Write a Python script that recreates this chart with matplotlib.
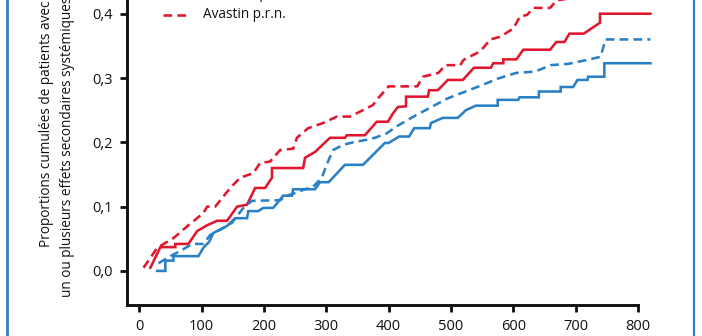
import matplotlib
matplotlib.use("Agg")
import matplotlib.pyplot as plt
from matplotlib.lines import Line2D

plt.rcParams['font.family'] = ['Open Sans', 'DejaVu Sans']

# ---- data ----
luc_men_x = [29, 42, 42, 55, 55, 95, 103, 112, 119, 141, 154, 173, 175, 191, 199, 215, 231, 245, 247, 282, 290, 304, 330, 359, 394, 400, 417, 433, 441, 466, 468, 487, 511, 524, 540, 575, 575, 608, 610, 641, 641, 676, 676, 696, 703, 719, 720, 746, 746, 820]
luc_men_y = [0.0, 0.0, 0.016, 0.016, 0.023, 0.023, 0.036, 0.045, 0.059, 0.07, 0.082, 0.082, 0.093, 0.093, 0.098, 0.098, 0.117, 0.117, 0.127, 0.127, 0.138, 0.138, 0.165, 0.165, 0.199, 0.199, 0.209, 0.209, 0.222, 0.222, 0.23, 0.238, 0.238, 0.25, 0.257, 0.257, 0.266, 0.266, 0.27, 0.27, 0.279, 0.279, 0.286, 0.286, 0.297, 0.297, 0.302, 0.302, 0.323, 0.323]

ava_men_x = [18, 34, 58, 58, 79, 93, 109, 125, 141, 157, 173, 186, 202, 213, 213, 263, 266, 282, 306, 330, 333, 362, 381, 399, 407, 415, 428, 428, 463, 465, 479, 495, 519, 537, 564, 568, 584, 584, 605, 616, 659, 669, 682, 690, 713, 739, 739, 820]
ava_men_y = [0.005, 0.037, 0.037, 0.042, 0.042, 0.062, 0.071, 0.078, 0.078, 0.10, 0.103, 0.129, 0.129, 0.145, 0.16, 0.16, 0.176, 0.185, 0.207, 0.207, 0.211, 0.211, 0.232, 0.232, 0.245, 0.255, 0.256, 0.271, 0.271, 0.281, 0.281, 0.297, 0.297, 0.316, 0.316, 0.323, 0.323, 0.329, 0.329, 0.344, 0.344, 0.356, 0.356, 0.369, 0.369, 0.386, 0.40, 0.40]

luc_prn_x = [31, 50, 66, 85, 103, 114, 130, 149, 167, 181, 226, 237, 253, 263, 279, 293, 301, 311, 327, 343, 365, 378, 397, 415, 440, 467, 494, 526, 550, 575, 605, 635, 660, 688, 718, 740, 748, 820]
luc_prn_y = [0.012, 0.023, 0.031, 0.042, 0.042, 0.056, 0.064, 0.075, 0.098, 0.109, 0.11, 0.117, 0.122, 0.126, 0.131, 0.145, 0.166, 0.188, 0.196, 0.2, 0.204, 0.207, 0.214, 0.226, 0.24, 0.254, 0.268, 0.28, 0.289, 0.299, 0.308, 0.31, 0.32, 0.322, 0.328, 0.333, 0.36, 0.36]

ava_prn_x = [7, 29, 36, 55, 79, 103, 109, 122, 141, 151, 162, 183, 194, 210, 226, 247, 253, 271, 295, 317, 338, 359, 375, 381, 400, 446, 455, 480, 491, 515, 520, 542, 552, 563, 579, 600, 611, 622, 632, 659, 670, 740, 750, 820]
ava_prn_y = [0.005, 0.036, 0.04, 0.051, 0.071, 0.09, 0.10, 0.10, 0.123, 0.134, 0.145, 0.152, 0.168, 0.17, 0.188, 0.19, 0.207, 0.222, 0.23, 0.24, 0.24, 0.25, 0.258, 0.266, 0.287, 0.287, 0.302, 0.308, 0.32, 0.32, 0.328, 0.339, 0.347, 0.36, 0.364, 0.377, 0.396, 0.398, 0.409, 0.409, 0.421, 0.43, 0.45, 0.45]

labels = ["Lucentis mensuel", "Avastin mensuel", "Lucentis p.r.n.", "Avastin p.r.n."]
x_ticks = [0, 100, 200, 300, 400, 500, 600, 700, 800]
y_ticks = [0.0, 0.1, 0.2, 0.3, 0.4]
y_tick_labels = ["0,0", "0,1", "0,2", "0,3", "0,4"]
ylabel = "Proportions cumulées de patients avec\nun ou plusieurs effets secondaires systémiques graves"

RED = "#e2162d"
BLUE = "#2a80c5"
FRAME = "#2f7fc3"

W, H = 702, 336
fig = plt.figure(figsize=(W / 100, H / 100), dpi=100)
fig.patch.set_facecolor("white")

ax = fig.add_axes([126.7 / W, 31 / H, 530 / W, 355.6 / H])
ax.set_xlim(-20, 830)
ax.set_ylim(-0.053, 0.5)

lw = 1.85
dash = (0, (3.4, 2.0))
series = [
    (luc_men_x, luc_men_y, BLUE, '-'),
    (ava_men_x, ava_men_y, RED, '-'),
    (luc_prn_x, luc_prn_y, BLUE, dash),
    (ava_prn_x, ava_prn_y, RED, dash),
]
for xs, ys, c, ls in series:
    ax.plot(xs, ys, color=c, linestyle=ls, linewidth=lw, solid_joinstyle='miter')

for s in ['top', 'right']:
    ax.spines[s].set_visible(False)
for s in ['left', 'bottom']:
    ax.spines[s].set_linewidth(2.1)
    ax.spines[s].set_color('#111111')
ax.spines['bottom'].set_bounds(-20, 800)

ax.set_xticks(x_ticks)
ax.set_xticklabels([str(v) for v in x_ticks])
ax.set_yticks(y_ticks)
ax.set_yticklabels(y_tick_labels)
ax.tick_params(axis='both', direction='out', length=5, width=2.0, labelsize=10.5,
               colors='#111111')
ax.tick_params(axis='x', pad=5)
ax.tick_params(axis='y', pad=5)

fig.text(57 / W, 1 - 124 / H, ylabel, rotation=90, ha='center', va='center',
         multialignment='center', fontsize=9.8, linespacing=1.55, color='#111111')

# legend (manual, top part is cut off in the reference)
styles = [(BLUE, '-'), (RED, '-'), (BLUE, dash), (RED, dash)]
base = 15
for i, (lab, (c, ls)) in enumerate(zip(labels, styles)):
    yy = base - (len(labels) - 1 - i) * 21
    fy = 1 - yy / H
    fig.add_artist(Line2D([163 / W, 190 / W], [fy, fy], color=c, linestyle=ls, linewidth=lw))
    fig.text(203 / W, fy, lab, ha='left', va='center', fontsize=9.8, color='#111111')

# blue frame lines
fig.add_artist(Line2D([6.8 / W, 6.8 / W], [0, 1], color=FRAME, linewidth=2.0))
fig.add_artist(Line2D([694.3 / W, 694.3 / W], [0, 1], color=FRAME, linewidth=1.6))

fig.savefig("out.png", dpi=100)
